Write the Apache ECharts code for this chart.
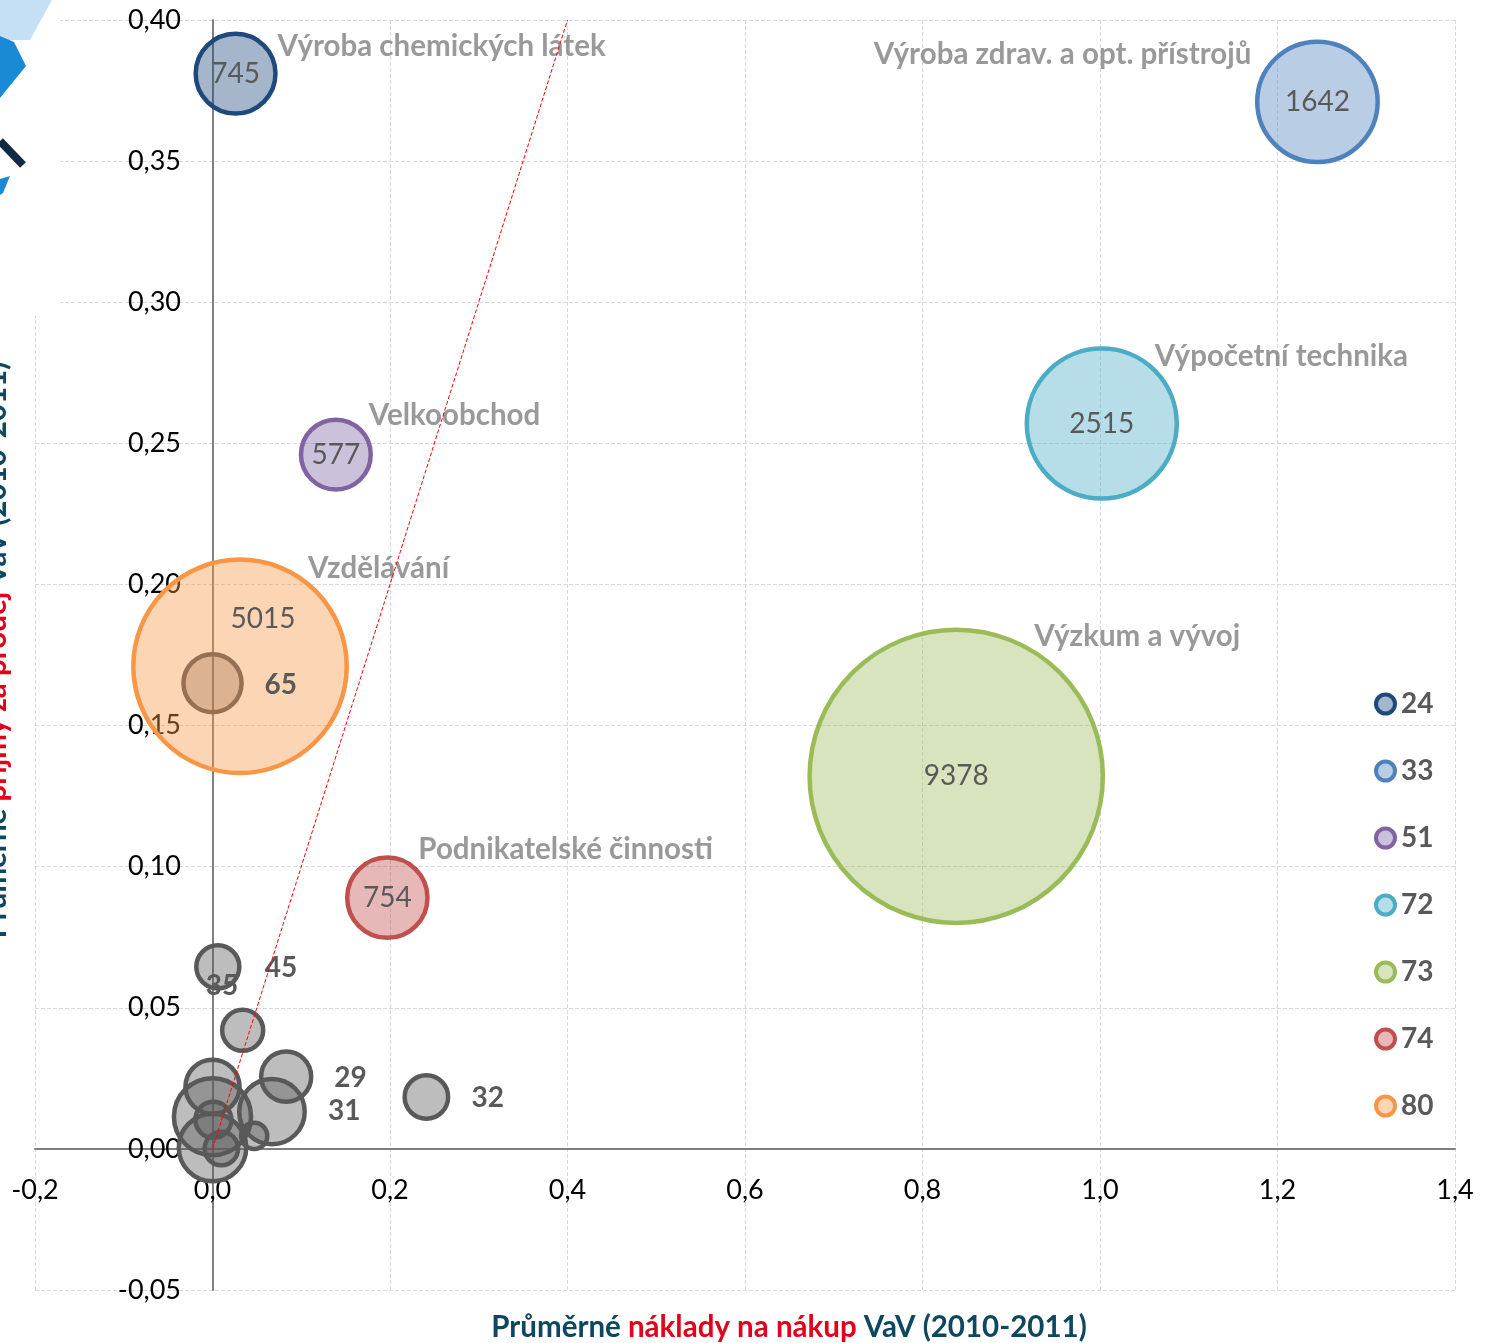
<!DOCTYPE html>
<html>
<head>
<meta charset="utf-8">
<script src="https://cdn.jsdelivr.net/npm/echarts@6/dist/echarts.min.js"></script>
<style>
  html, body { margin: 0; padding: 0; background: #fff; }
  #chart { width: 1489px; height: 1343px; }
</style>
</head>
<body>
<div id="chart"></div>
<script>
// sectors shown in the legend (NACE code), x = costs, y = incomes, bubble size
const sectorCodes = ['24', '33', '51', '72', '73', '74', '80']
const sectorNames = ['Výroba chemických látek', 'Výroba zdrav. a opt. přístrojů', 'Velkoobchod', 'Výpočetní technika', 'Výzkum a vývoj', 'Podnikatelské činnosti', 'Vzdělávání']
const sectorCosts = [0.026, 1.245, 0.139, 1.002, 0.838, 0.197, 0.031]
const sectorIncomes = [0.381, 0.371, 0.246, 0.257, 0.132, 0.089, 0.171]
const sectorSizes = [745, 1642, 577, 2515, 9378, 754, 5015]

// remaining small sectors (grey bubbles)
const otherCodes = ['65', '45', '35', '29', '31', '32', '', '', '', '', '', '']
const otherCosts = [0.000, 0.006, 0.034, 0.083, 0.067, 0.241, 0.000, 0.000, 0.001, 0.047, 0.010, 0.000]
const otherIncomes = [0.165, 0.0645, 0.042, 0.0256, 0.0132, 0.0184, 0.022, 0.0114, 0.0103, 0.0046, 0.0001, 0.0005]
const otherSizes = [409, 235, 215, 310, 512, 239, 358, 698, 170, 96, 149, 542]

// reference line y = x
const refLineX = [0, 0.4]
const refLineY = [0, 0.4]

// styling
const FONT = 'Lato'
const sectorColors = ['#1f497d', '#4f81bd', '#8064a2', '#4bacc6', '#9bbb59', '#c0504d', '#f79646']
const nameOffsets = [[42, -27], [-66, -47], [33, -39], [53, -67], [78, -140], [31, -48], [68, -98]]
const nameAligns = ['left', 'right', 'left', 'left', 'left', 'left', 'left']
const valueOffsets = [[0, 0], [0, 0], [0, 0], [0, 0], [0, 0], [0, 0], [23, -47]]
const otherOffsets = [[52, 2], [47, 1], [-37, -44], [48, 1], [56, -1], [45, 1]]

const bubbleSize = (v) => 3.07 * Math.sqrt(v) - 4

const hexToRgba = (hex, a) => {
  const n = parseInt(hex.slice(1), 16)
  return `rgba(${(n >> 16) & 255}, ${(n >> 8) & 255}, ${n & 255}, ${a})`
}

const chart = echarts.init(document.getElementById('chart'))

const sectorSeries = sectorCodes.map((code, i) => ({
  name: code,
  type: 'scatter',
  z: 2,
  data: [[sectorCosts[i], sectorIncomes[i], sectorSizes[i]]],
  symbolSize: (d) => bubbleSize(d[2]),
  itemStyle: {
    color: hexToRgba(sectorColors[i], 0.4),
    borderColor: sectorColors[i],
    borderWidth: 4.5,
    opacity: 1
  },
  label: {
    show: true,
    position: 'inside',
    offset: valueOffsets[i],
    formatter: (p) => p.value[2],
    fontFamily: FONT,
    fontSize: 28,
    color: '#595959'
  },
  emphasis: { disabled: true }
}))

const otherSeries = {
  name: 'ostatní',
  type: 'scatter',
  z: 3,
  data: otherCodes.map((code, i) => ({
    value: [otherCosts[i], otherIncomes[i], otherSizes[i]],
    itemStyle: code === '65'
      ? { color: 'rgba(150, 100, 60, 0.3)', borderColor: '#967052' }
      : undefined,
    label: {
      show: code !== '',
      position: 'inside',
      align: 'left',
      offset: otherOffsets[i] || [0, 0],
      formatter: code
    }
  })),
  symbolSize: (d) => bubbleSize(d[2]),
  itemStyle: {
    color: 'rgba(89, 89, 89, 0.4)',
    borderColor: '#595959',
    borderWidth: 4.5,
    opacity: 1
  },
  label: {
    fontFamily: FONT,
    fontSize: 28,
    fontWeight: 'bold',
    color: '#595959'
  },
  emphasis: { disabled: true }
}

const nameSeries = {
  name: 'popisky',
  type: 'scatter',
  z: 4,
  symbolSize: 0,
  data: sectorNames.map((name, i) => ({
    value: [sectorCosts[i], sectorIncomes[i]],
    label: {
      show: true,
      position: 'inside',
      align: nameAligns[i],
      offset: nameOffsets[i],
      formatter: name
    }
  })),
  label: {
    fontFamily: FONT,
    fontSize: 29.5,
    fontWeight: 'bold',
    color: '#7f7f7f'
  },
  emphasis: { disabled: true }
}

const lineSeries = {
  name: 'y = x',
  type: 'line',
  z: 5,
  data: refLineX.map((x, i) => [x, refLineY[i]]),
  showSymbol: false,
  lineStyle: { color: '#ff0000', width: 1, type: [4, 2] },
  emphasis: { disabled: true }
}

const option = {
  animation: false,
  backgroundColor: '#ffffff',
  grid: { left: 35, right: 34, top: 20, bottom: 53, containLabel: false, outerBoundsMode: 'none' },
  legend: {
    data: sectorCodes,
    orient: 'vertical',
    left: 1369,
    top: 685,
    icon: 'circle',
    itemWidth: 19,
    itemHeight: 19,
    itemGap: 39,
    itemStyle: { borderWidth: 4 },
    textStyle: { fontFamily: FONT, fontSize: 28, fontWeight: 'bold', color: '#595959', padding: [0, 0, 0, 1] }
  },
  xAxis: {
    type: 'value',
    min: -0.2,
    max: 1.4,
    interval: 0.2,
    axisLine: { onZero: true, lineStyle: { color: '#7f7f7f', width: 2 } },
    axisTick: { show: false },
    axisLabel: {
      // labels sit just under the zero line, not at the bottom of the plot
      margin: -113,
      fontFamily: FONT,
      fontSize: 27,
      color: '#000',
      formatter: (v) => v.toFixed(1).replace('.', ',')
    },
    splitLine: { lineStyle: { color: '#d9d9d9', type: 'dashed', width: 1 } }
  },
  yAxis: {
    type: 'value',
    min: -0.05,
    max: 0.40,
    interval: 0.05,
    axisLine: { onZero: true, lineStyle: { color: '#7f7f7f', width: 2 } },
    axisTick: { show: false },
    axisLabel: {
      // labels sit left of the zero line
      margin: -146,
      fontFamily: FONT,
      fontSize: 27,
      color: '#000',
      formatter: (v) => v.toFixed(2).replace('.', ',')
    },
    splitLine: { lineStyle: { color: '#d9d9d9', type: 'dashed', width: 1 } }
  },
  graphic: [
    // white corner of the logo image covering the grid
    { type: 'rect', z: 10, shape: { x: 0, y: 0, width: 60, height: 316 }, style: { fill: '#fff' } },
    { type: 'polygon', z: 11, shape: { points: [[0, 0], [52, 0], [30, 40], [0, 40]] }, style: { fill: '#b7d8f2', opacity: 0.8 } },
    { type: 'polygon', z: 11, shape: { points: [[0, 36], [14, 42], [26, 66], [0, 98]] }, style: { fill: '#1b8ad6' } },
    { type: 'line', z: 11, shape: { x1: 0, y1: 141, x2: 23, y2: 165 }, style: { stroke: '#0f2a44', lineWidth: 8 } },
    { type: 'polygon', z: 11, shape: { points: [[0, 179], [10, 176], [3, 193], [0, 195]] }, style: { fill: '#1b8ad6' } },
    {
      type: 'text',
      z: 12,
      x: 789,
      y: 1327,
      style: {
        text: '{a|Průměrné }{b|náklady na nákup}{a| VaV (2010-2011)}',
        align: 'center',
        verticalAlign: 'middle',
        rich: {
          a: { fontFamily: FONT, fontSize: 29.5, fontWeight: 'bold', fill: '#0e4760' },
          b: { fontFamily: FONT, fontSize: 29.5, fontWeight: 'bold', fill: '#e2001a' }
        }
      }
    },
    {
      type: 'text',
      z: 12,
      x: -4,
      y: 650,
      rotation: Math.PI / 2,
      style: {
        text: '{a|Průměrné }{b|příjmy za prodej}{a| VaV (2010-2011)}',
        align: 'center',
        verticalAlign: 'middle',
        rich: {
          a: { fontFamily: FONT, fontSize: 29.5, fontWeight: 'bold', fill: '#0e4760' },
          b: { fontFamily: FONT, fontSize: 29.5, fontWeight: 'bold', fill: '#e2001a' }
        }
      }
    }
  ],
  series: [...sectorSeries, otherSeries, nameSeries, lineSeries]
}

chart.setOption(option)
</script>
</body>
</html>
